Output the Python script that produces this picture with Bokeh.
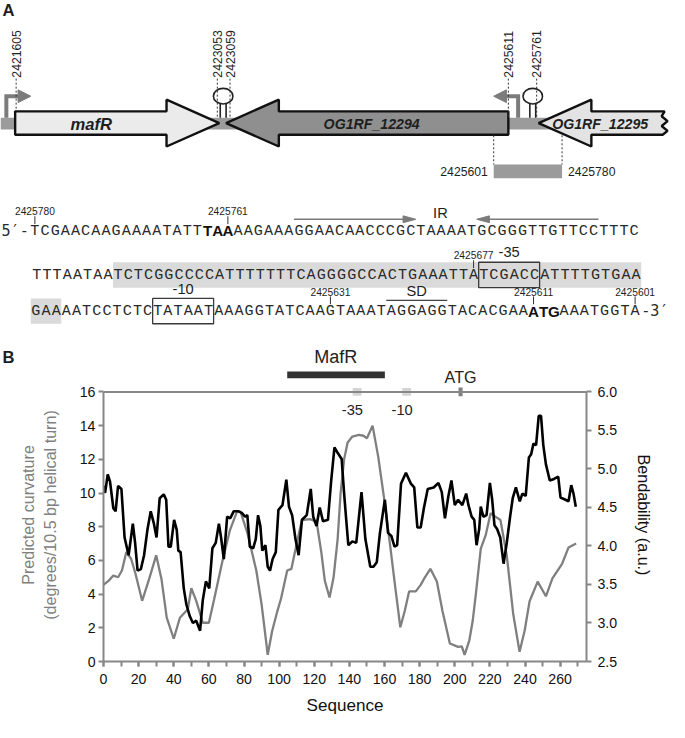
import numpy as np
from bokeh.plotting import figure
from bokeh.models import (Range1d, LinearAxis, FixedTicker, SingleIntervalTicker,
                          NumeralTickFormatter, Span)
from bokeh.embed import file_html
from bokeh.resources import INLINE
from bokeh.core.properties import value

# ------------------------------------------------------------------ data
# Panel B: predicted curvature (grey, left axis)
curv_pos = [0, 3, 5.6, 8.3, 10.5, 13, 15.7, 18, 22, 26, 30, 33, 36, 40, 43.5, 48, 50, 52.8,
            56.5, 60, 63, 67.6, 72, 76, 78, 82, 87, 90, 93.5, 96, 99, 101, 104.6, 107, 110,
            113, 117.6, 121.3, 124, 126, 128.7, 131, 133.3, 135, 137, 139, 141.7, 145.4, 148,
            150, 153.2, 156.5, 160, 163, 166, 169, 171.5, 174, 177.8, 180.6, 183, 186.1, 189.8,
            193, 197.2, 201.9, 204, 205.6, 208.3, 210.2, 212, 214.8, 217.6, 220.4, 223.1, 226,
            229.6, 233.3, 236.9, 239.8, 242.6, 247.2, 251.9, 255.6, 261.1, 264.8, 269.1]
curvature = [4.55, 4.8, 5.1, 5.0, 5.4, 6.5, 6.1, 5.3, 3.6, 4.9, 6.3, 4.9, 2.6, 1.35, 2.6, 3.1,
             4.35, 3.6, 2.3, 2.3, 3.7, 5.9, 7.8, 8.9, 8.9, 7.6, 5.4, 3.4, 0.4, 1.8, 3.0, 3.7,
             5.4, 5.5, 7.0, 8.4, 8.45, 8.3, 6.5, 4.8, 3.8, 5.0, 7.25, 10.0, 12.0, 13.0, 13.35,
             13.45, 13.4, 13.25, 14.0, 12.1, 9.5, 7.06, 4.5, 2.03, 3.0, 4.16, 4.16, 4.55, 5.0,
             5.5, 4.75, 3.0, 1.07, 0.87, 0.9, 0.39, 1.26, 2.4, 4.0, 6.7, 7.5, 8.8, 8.6, 8.4,
             6.3, 2.8, 0.58, 1.84, 3.58, 4.74, 3.87, 4.93, 5.8, 6.77, 7.0]
# Panel B: bendability (black, right axis)
bend_pos = [0, 0.9, 2.4, 3.7, 5.6, 6.9, 8.3, 10.2, 12, 14.3, 16.7, 18, 19.4, 21.3, 23.1, 25,
            26.9, 28.7, 30.2, 32, 34.3, 35.7, 37, 38.3, 40.2, 41.7, 42.6, 43.9, 45.7, 47.2,
            49.1, 50.9, 52.8, 55, 56.5, 58.3, 60.2, 62, 63.9, 65.7, 67, 68.5, 70.4, 72.2, 74.1,
            76.9, 78.7, 80.6, 81.9, 83.3, 85.2, 86.7, 88, 89.3, 90.4, 92.2, 93.5, 94.8, 96.3,
            98.1, 99.6, 101.9, 104.1, 105.6, 107.4, 109.3, 111.1, 113, 115.7, 118, 119.4,
            121.3, 123.1, 125, 127.8, 129.6, 131.5, 133.3, 135.6, 137, 138.2, 139.4, 141.7,
            143.9, 146.9, 149.1, 151.9, 153.7, 155.6, 157.4, 160.2, 162, 163.9, 165.7, 167.2,
            169.4, 172.2, 175, 176.9, 178.7, 180.6, 182.4, 184.6, 188, 190.7, 192.6, 194.4,
            196.3, 198.1, 200, 201.9, 204.3, 206.5, 207.8, 209.6, 211.1, 212.4, 213.9, 214.8,
            216.3, 218.1, 220, 221.3, 222.6, 224.1, 225.9, 227.8, 229.6, 231.5, 233, 234.8,
            237, 238.5, 240.4, 242.2, 243.5, 244.8, 246.3, 247.8, 249.1, 250.4, 251.9, 254.1,
            256.5, 258.9, 260.2, 263, 264.8, 266.3, 267.6, 268.9]
bendability = [4.78, 4.69, 4.93, 4.84, 4.49, 4.45, 4.78, 4.74, 4.11, 3.88, 4.29, 4.04, 3.68,
               3.70, 3.88, 4.21, 4.45, 4.29, 4.11, 4.62, 4.67, 4.60, 3.99, 3.99, 4.34, 4.21,
               3.94, 3.92, 3.45, 3.24, 3.09, 3.00, 3.03, 2.90, 3.29, 3.54, 3.45, 3.97, 4.04,
               4.29, 4.10, 3.83, 4.38, 4.36, 4.45, 4.45, 4.43, 4.38, 4.40, 3.99, 3.97, 4.09,
               4.40, 4.26, 3.94, 4.01, 3.73, 3.68, 3.83, 3.92, 4.47, 4.53, 4.86, 4.51, 4.40,
               4.09, 3.88, 4.34, 4.40, 4.74, 4.38, 4.26, 4.50, 4.32, 4.34, 4.84, 5.28, 5.21,
               5.13, 4.68, 4.34, 4.01, 4.06, 4.04, 4.70, 4.09, 3.73, 3.73, 3.79, 4.17, 4.60,
               4.17, 4.13, 3.99, 4.01, 4.81, 4.95, 4.81, 4.76, 4.24, 4.24, 4.49, 4.74, 4.76,
               4.82, 4.70, 4.36, 4.64, 4.85, 4.53, 4.60, 4.53, 4.68, 4.53, 4.38, 4.34, 4.01,
               4.22, 4.51, 4.38, 4.40, 4.82, 4.60, 4.27, 4.22, 4.11, 3.77, 4.04, 4.38, 4.62,
               4.76, 4.58, 4.68, 4.65, 5.15, 5.19, 5.33, 5.31, 5.69, 5.69, 5.31, 5.06, 4.85,
               4.87, 4.90, 4.63, 4.60, 4.58, 4.79, 4.68, 4.51]
curv_ticks = [0, 2, 4, 6, 8, 10, 12, 14, 16]
bend_ticks = [2.5, 3.0, 3.5, 4.0, 4.5, 5.0, 5.5, 6.0]
# features along the sequence axis (panel B)
mafr_site = [104.6, 160.2]
box_names = ["-35", "-10"]
box_pos = [144.4, 172.6]
box_label_pos = [141.7, 170.0]
atg_pos = [203.3]

# Panel A: sequence text
seq_lines = ["TCGAACAAGAAAATATTTAAAAGAAAGGAACAACCCGCTAAAATGCGGGTTGTTCCTTTC",
             "TTTAATAATCTCGGCCCCATTTTTTTCAGGGGCCACTGAAATTATCGACCATTTTGTGAA",
             "GAAAATCCTCTCTATAATAAAGGTATCAAGTAAATAGGAGGTACACGAAATGAAATGGTA"]
bold_runs = [(0, 17, 19), (2, 49, 51)]           # (line, first, last)
coord_marks = [("2425780", 0, 0), ("2425761", 0, 19), ("2425677", 1, 43),
               ("2425631", 2, 29), ("2425611", 2, 49), ("2425601", 2, 59)]
highlights = [(1, 8, 59), (2, 0, 2)]
boxes = [("-35", 1, 44, 49), ("-10", 2, 12, 17)]
sd_site = (2, 35, 40)
ir_arms = [(0, 26, 37), (0, 44, 55)]

genes = ["mafR", "OG1RF_12294", "OG1RF_12295"]
gene_labels_vertical = ["2421605", "2423053", "2423059", "2425611", "2425761"]
probe_labels = ["2425601", "2425780"]

# ------------------------------------------------------------------ layout helpers
W = 669
S = W / 685.0
SANS = "Liberation Sans"
MONO = "Liberation Mono"
def fs(px):
    return f"{px * S:.2f}px"

INK = "#1e1e1e"
AX = "#878787"
SPLIT = 377              # reference-pixel row where panel B's figure begins
BX0, BXK = 105.0, 1.8    # reference px of sequence position 0, px per position

# ================================================================== Panel A
HA = round(SPLIT * S)
pa = figure(width=W, height=HA, x_range=Range1d(0, 685), y_range=Range1d(HA / S, 0),
            x_axis_location=None, y_axis_location=None, min_border=0,
            toolbar_location=None, output_backend="svg")
pa.grid.visible = False
pa.outline_line_color = None

def txt(p, x, y, t, size, font=SANS, style="normal", color=INK, align="center",
        baseline="middle", angle=0.0):
    p.text(x=x, y=y, text=t, text_font=value(font), text_font_size=fs(size),
           text_font_style=style, text_color=color, text_align=align,
           text_baseline=baseline, angle=angle)

txt(pa, [2], [10], ["A"], 17, style="bold", align="left")
txt(pa, [2], [366], ["B"], 17, style="bold", align="left")
txt(pa, [BX0 + BXK * sum(mafr_site) / 2], [365], ["MafR"], 18.5, color="#222222")

# backbone
pa.quad(left=[0], right=[640], top=[120], bottom=[132], color="#9b9b9b", line_color=None)

# gene arrows
YC, BH, HH, HL = 125.5, 12, 24, 54
def right_arrow(x0, x1):
    return ([x0, x1 - HL, x1 - HL, x1, x1 - HL, x1 - HL, x0],
            [YC - BH, YC - BH, YC - HH, YC, YC + HH, YC + BH, YC + BH])
def left_arrow(x0, x1, zig=False):
    if zig:
        xr = [x1 - 3, x1 + 2, x1 - 4, x1 + 2, x1 - 4, x1 - 1]
        yr = [YC + BH, YC + 8, YC + 3, YC - 2, YC - 7, YC - BH]
    else:
        xr, yr = [x1, x1], [YC + BH, YC - BH]
    xs = [x0, x0 + HL, x0 + HL] + xr + [x0 + HL, x0 + HL]
    ys = [YC, YC + HH, YC + BH] + yr + [YC - BH, YC - HH]
    return xs, ys

xs, ys = right_arrow(15, 224)
pa.patch(xs, ys, fill_color="#ebebeb", line_color="#111111", line_width=2.4)
xs, ys = left_arrow(231, 520)
pa.patch(xs, ys, fill_color="#8f8f8f", line_color="#111111", line_width=2.4)
xs, ys = left_arrow(551, 681, zig=True)
pa.patch(xs, ys, fill_color="#e3e3e3", line_color="#111111", line_width=2.4)
txt(pa, [93], [YC + 1], [genes[0]], 17, style="bold italic")
txt(pa, [380], [YC + 1], [genes[1]], 14.5, style="bold italic")
txt(pa, [614], [YC + 1], [genes[2]], 14.5, style="bold italic")

# promoters
PC = "#7b7b7b"
for xs_, d in [(6, 1), (530, -1)]:
    pa.line([xs_, xs_, xs_ + d * 13], [120, 98, 98], line_color=PC, line_width=4,
            line_join="miter")
    pa.patch([xs_ + d * 12, xs_ + d * 25, xs_ + d * 12], [91.5, 98, 104.5],
             fill_color=PC, line_color=PC)

# terminators
for xc in [228, 545]:
    pa.segment(x0=[xc - 3, xc + 3], y0=[106, 106], x1=[xc - 3, xc + 3], y1=[120, 120],
               line_color="#222222", line_width=1.6)
    pa.ellipse(x=[xc], y=[98], width=20, height=16, fill_color="white",
               line_color="#222222", line_width=1.6)

# vertical coordinate labels + dashed leaders
vx = [16, 222, 235, 520, 549]
vend = [113, 119, 119, 119, 119]
pa.segment(x0=vx, y0=[80] * 5, x1=vx, y1=vend, line_color="#333333", line_width=1,
           line_dash="2 2")
txt(pa, vx, [79] * 5, gene_labels_vertical, 12.5, align="left", angle=np.pi / 2)

# probe region
pa.segment(x0=[505, 575], y0=[138, 138], x1=[505, 575], y1=[168, 168],
           line_color="#333333", line_width=1, line_dash="2 2")
pa.quad(left=[505], right=[575], top=[168], bottom=[182], color="#9b9b9b", line_color=None)
txt(pa, [499], [175], [probe_labels[0]], 12.5, align="right")
txt(pa, [581], [175], [probe_labels[1]], 12.5, align="left")

# ---- sequence block
CW = 10.4
LX0 = [30, 32, 31]
LY = [236, 281, 318]
def cx(line, i):
    return LX0[line] + CW * (i + 0.5)
def lx(line, i):
    return LX0[line] + CW * i

for ln, a, b in highlights:
    pa.quad(left=[lx(ln, a)], right=[lx(ln, b + 1)], top=[LY[ln] - 13],
            bottom=[LY[ln] + 13], color="#dadada", line_color=None)
for name, ln, a, b in boxes:
    pa.quad(left=[lx(ln, a)], right=[lx(ln, b + 1)], top=[LY[ln] - 13],
            bottom=[LY[ln] + 13], fill_color=None, line_color="#3a3a3a", line_width=1.3)
    txt(pa, [(lx(ln, a) + lx(ln, b + 1)) / 2], [LY[ln] - 23], [name], 15)

nx, ny, nt, bx, by, bt = [], [], [], [], [], []
for ln, s in enumerate(seq_lines):
    bset = set()
    for (bl, a, b) in bold_runs:
        if bl == ln:
            bset.update(range(a, b + 1))
    for i, ch in enumerate(s):
        if i in bset:
            bx.append(cx(ln, i)); by.append(LY[ln]); bt.append(ch)
        else:
            nx.append(cx(ln, i)); ny.append(LY[ln]); nt.append(ch)
txt(pa, nx, ny, nt, 15.5, font=MONO, color="#2a2a2a")
txt(pa, bx, by, bt, 15.5, style="bold", color="#111111")
txt(pa, [lx(0, 0) - 1], [LY[0]], ["5\u2032-"], 15.5, font="DejaVu Sans Mono",
    color="#2a2a2a", align="right")
txt(pa, [lx(2, 60) + 1], [LY[2]], ["-3\u2032"], 15.5, font="DejaVu Sans Mono",
    color="#2a2a2a", align="left")

mx = [cx(ln, i) for (_, ln, i) in coord_marks]
my = [LY[ln] for (_, ln, i) in coord_marks]
pa.segment(x0=mx, y0=[y - 15 for y in my], x1=mx, y1=[y - 7 for y in my],
           line_color="#333333", line_width=1)
txt(pa, mx, [y - 20 for y in my], [t for (t, _, _) in coord_marks], 10.5)

ln, a, b = sd_site
pa.segment(x0=[lx(ln, a)], y0=[LY[ln] - 11], x1=[lx(ln, b + 1)], y1=[LY[ln] - 11],
           line_color="#444444", line_width=1.2)
txt(pa, [(lx(ln, a) + lx(ln, b + 1)) / 2], [LY[ln] - 21], ["SD"], 15)

IRC = "#7b7b7b"
ir_y = LY[0] - 12
l0, l1 = lx(0, ir_arms[0][1]), lx(0, ir_arms[0][2] + 1)
r0, r1 = lx(0, ir_arms[1][1]), lx(0, ir_arms[1][2] + 1)
pa.segment(x0=[l0, r0 + 12], y0=[ir_y] * 2, x1=[l1 - 12, r1], y1=[ir_y] * 2,
           line_color=IRC, line_width=1.4)
pa.patch([l1 - 13, l1, l1 - 13], [ir_y - 3.5, ir_y, ir_y + 3.5], fill_color=IRC, line_color=IRC)
pa.patch([r0 + 13, r0, r0 + 13], [ir_y - 3.5, ir_y, ir_y + 3.5], fill_color=IRC, line_color=IRC)
txt(pa, [(l1 + r0) / 2 - 6], [ir_y - 6], ["IR"], 15)

# ================================================================== Panel B
HB = 721 - HA
MBB = 60
MBL = 103
MBR = W - MBL - 483
PX_UNIT = (677 - 401) / 16.0              # reference px per curvature unit
ytop = ((HB - MBB) / S) / PX_UNIT
BEND_K = 3.5 / 16.0
def Ly(yref):
    return (677 - yref) / PX_UNIT

pb = figure(width=W, height=HB, x_range=Range1d(0, 275), y_range=Range1d(0, ytop),
            min_border_left=MBL, min_border_right=MBR, min_border_top=0,
            min_border_bottom=MBB, toolbar_location=None, output_backend="svg")
pb.grid.visible = False
pb.outline_line_color = None
pb.extra_y_ranges = {"bend": Range1d(2.5, 2.5 + ytop * BEND_K)}

def style_axis(ax):
    ax.axis_line_color = AX
    ax.axis_line_width = 2
    ax.major_tick_line_color = AX
    ax.major_tick_line_width = 2
    ax.major_tick_in = 0
    ax.major_tick_out = 5
    ax.minor_tick_line_color = None
    ax.major_label_text_font = SANS
    ax.major_label_text_font_size = fs(14.5)
    ax.major_label_text_color = "#111111"
    ax.axis_label_text_font = SANS
    ax.axis_label_text_font_style = "normal"
    ax.axis_label_text_font_size = fs(16.5)

ly = pb.yaxis[0]
style_axis(ly)
ly.ticker = FixedTicker(ticks=curv_ticks)
ly.bounds = (0, 16)
ly.major_label_standoff = 3
ly.axis_label = "Predicted curvature\n(degrees/10.5 bp helical turn)"
ly.axis_label_text_color = "#808080"
ly.axis_label_standoff = 18

bx_ = pb.xaxis[0]
style_axis(bx_)
bx_.ticker = SingleIntervalTicker(interval=20, num_minor_ticks=2)
bx_.minor_tick_line_color = AX
bx_.minor_tick_line_width = 2
bx_.minor_tick_in = 0
bx_.minor_tick_out = 5
bx_.major_label_standoff = 7
bx_.axis_label = "Sequence"
bx_.axis_label_text_font_size = fs(17.5)
bx_.axis_label_text_color = "#111111"
bx_.axis_label_standoff = 9

ry = LinearAxis(y_range_name="bend")
style_axis(ry)
ry.ticker = FixedTicker(ticks=bend_ticks)
ry.formatter = NumeralTickFormatter(format="0.0")
ry.bounds = (2.5, 6.0)
ry.major_label_standoff = 6
ry.axis_label = "Bendability (a.u.)"
ry.axis_label_text_color = "#111111"
ry.axis_label_standoff = 15
pb.add_layout(ry, "right")

pb.add_layout(Span(location=16, dimension="width", line_color=AX, line_width=2))

pb.line(curv_pos, curvature, line_color="#7f7f7f", line_width=2.3)
pb.line(bend_pos, bendability, y_range_name="bend", line_color="#000000", line_width=2.6)

pb.quad(left=[mafr_site[0]], right=[mafr_site[1]], top=[Ly(380)], bottom=[Ly(387)],
        color="#333333", line_color=None)
pb.rect(x=box_pos, y=[16, 16], width=5, height=8 / PX_UNIT, color="#d4d4d4", line_color=None)
pb.rect(x=atg_pos, y=[16], width=2.3, height=9 / PX_UNIT, color="#808080", line_color=None)
pb.text(x=box_label_pos, y=[Ly(419)] * 2, text=box_names, text_font=value(SANS),
        text_font_size=fs(15), text_color="#222222", text_align="center",
        text_baseline="middle")
pb.text(x=atg_pos, y=[Ly(386)], text=["ATG"], text_font=value(SANS),
        text_font_size=fs(16.5), text_color="#222222", text_align="center",
        text_baseline="middle")

open("out.html", "w").write(file_html([pa, pb], INLINE))
